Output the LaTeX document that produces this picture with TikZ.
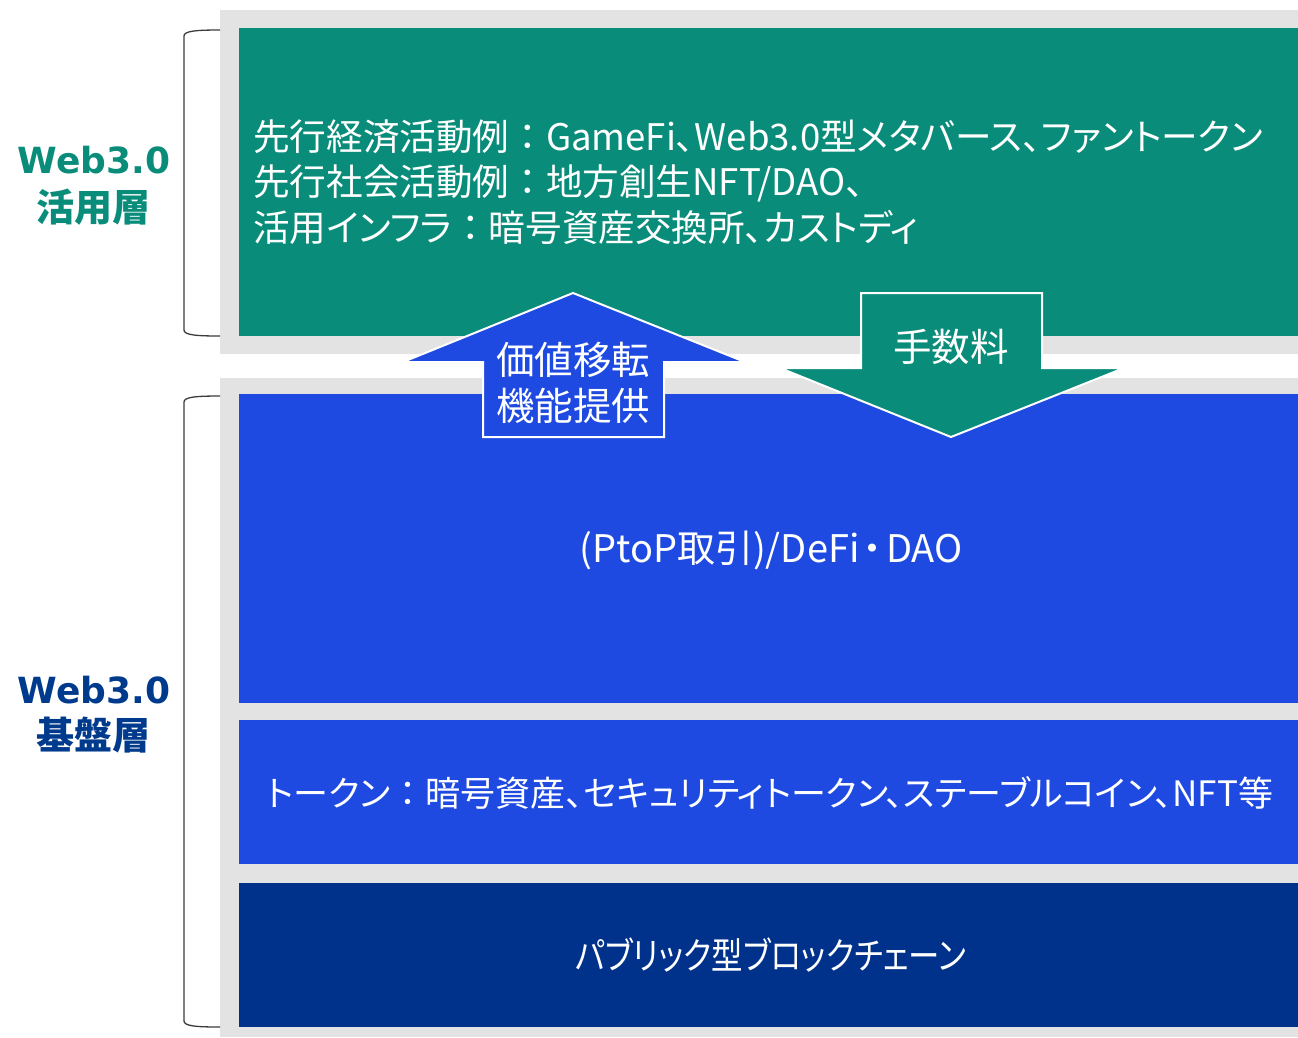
\documentclass[tikz,border=0pt]{standalone}
\usepackage{fontspec}
\setmainfont{Noto Sans CJK JP}[RawFeature=+palt]
\newfontfamily\lblfont{DejaVu Sans}
\newcommand{\fwc}{\makebox[1em]{：}}
\definecolor{teal1}{RGB}{10,140,122}
\definecolor{blue1}{RGB}{31,74,226}
\definecolor{navy1}{RGB}{0,50,140}
\definecolor{gray1}{RGB}{227,227,227}
\definecolor{lblnavy}{RGB}{0,58,140}
\definecolor{brk}{RGB}{60,60,60}
\begin{document}
\begin{tikzpicture}[x=1pt,y=-1pt,
  panel/.style={fill=gray1, draw=none, inner sep=0pt, anchor=north west},
  block/.style={draw=none, inner sep=0pt, text=white},
  wtext/.style={text=white, inner sep=0pt},
  lbla/.style={inner sep=0pt, font=\fontsize{36}{40}\lblfont\bfseries},
  lblb/.style={inner sep=0pt, font=\fontsize{38}{40}\selectfont\bfseries},
  bracket/.style={draw=brk, line width=1.3pt},
  arrowshape/.style={draw=white, line width=2pt, line join=miter}
]
\useasboundingbox (0,0) rectangle (1298,1037);
% panels
\node[panel, minimum width=1078pt, minimum height=344pt] (ptop) at (220,10) {};
\node[panel, minimum width=1078pt, minimum height=659pt] (pbot) at (220,378) {};
% blocks
\node[block, fill=teal1, minimum width=1059pt, minimum height=308pt] (act) at (768.5,182) {};
\node[block, fill=blue1, minimum width=1059pt, minimum height=309pt] (defi) at (768.5,548.5) {};
\node[block, fill=blue1, minimum width=1059pt, minimum height=144pt] (tok) at (768.5,792) {};
\node[block, fill=navy1, minimum width=1059pt, minimum height=144pt] (chain) at (768.5,955) {};
% texts
\node[wtext, anchor=west, align=left, font=\fontsize{36.6}{45.5}\selectfont] (acttxt) at (253,182)
  {先行経済活動例\fwc GameFi、Web3.0型メタバース、ファントークン\\
   先行社会活動例\fwc 地方創生NFT/DAO、\\
   活用インフラ\fwc 暗号資産交換所、カストディ};
\node[wtext, font=\fontsize{38}{40}\selectfont] (defitxt) at (771,550) {(PtoP取引)/DeFi\makebox[0.7em]{・}DAO};
\node[wtext, font=\fontsize{35}{40}\selectfont] (toktxt) at (770,793) {トークン\fwc 暗号資産、セキュリティトークン、ステーブルコイン、NFT等};
\node[wtext, font=\fontsize{37}{40}\selectfont] (chaintxt) at (771,955) {\scalebox{0.85}[1]{パブリック型ブロックチェーン}};
% arrows
\path[arrowshape, fill=blue1] (573,293) -- (745,362) -- (664,362) -- (664,437) -- (483,437) -- (483,362) -- (403,362) -- cycle;
\path[arrowshape, fill=teal1] (861,293) -- (1042,293) -- (1042,368) -- (1124,368) -- (951,437) -- (780,368) -- (861,368) -- cycle;
\node[wtext, align=center, font=\fontsize{38.5}{46}\selectfont] (uptxt) at (573,383) {価値移転\\機能提供};
\node[wtext, font=\fontsize{38.5}{46}\selectfont] (downtxt) at (951,347) {手数料};
% left labels
\node[lbla, text=teal1] (l1a) at (94,160) {Web3.0};
\node[lblb, text=teal1] (l1b) at (93,207) {活用層};
\node[lbla, text=lblnavy] (l2a) at (94,690) {Web3.0};
\node[lblb, text=lblnavy] (l2b) at (93,735) {基盤層};
% brackets
\draw[bracket] (220,30) .. controls (196,30) and (184,31) .. (184,36) -- (184,330) .. controls (184,335) and (196,336) .. (220,336);
\draw[bracket] (220,396) .. controls (196,396) and (184,397) .. (184,402) -- (184,1021) .. controls (184,1026) and (196,1027) .. (220,1027);
\end{tikzpicture}
\end{document}
